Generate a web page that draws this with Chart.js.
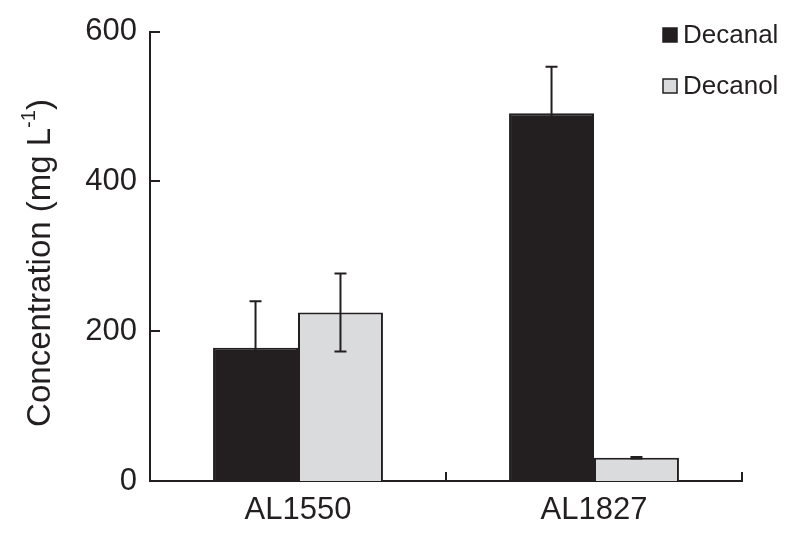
<!DOCTYPE html>
<html>
<head>
<meta charset="utf-8">
<script src="https://cdn.jsdelivr.net/npm/chart.js@4/dist/chart.umd.min.js"></script>
<style>
  html, body { margin: 0; padding: 0; background: #fff; }
  #wrap { width: 800px; height: 538px; position: relative; }
</style>
</head>
<body>
<div id="wrap"><canvas id="grafico"></canvas></div>
<script>
// datos
const categorias = ['AL1550', 'AL1827'];
const decanal = [178, 491];
const decanalErr = [62, 62];
const decanol = [225, 31];
const decanolErr = [52, 1];
const yTicks = [0, 200, 400, 600];

const TINTA = '#231f20';
const GRIS = '#d9dbdc';
const FUENTE = '"Liberation Sans", Arial, sans-serif';

// barras de error (solo dibujo, valores vienen de los arrays)
const barrasError = {
    id: 'barrasError',
    afterDatasetsDraw(chart) {
        const ctx = chart.ctx;
        const y = chart.scales.y;
        ctx.save();
        ctx.strokeStyle = TINTA;
        ctx.lineWidth = 2;
        chart.data.datasets.forEach((ds, i) => {
            const meta = chart.getDatasetMeta(i);
            meta.data.forEach((bar, j) => {
                const v = ds.data[j];
                const e = ds.errores[j];
                const x = bar.x;
                const yTop = y.getPixelForValue(v + e);
                const yBot = y.getPixelForValue(v - e);
                ctx.beginPath();
                ctx.moveTo(x, yTop); ctx.lineTo(x, yBot);
                ctx.moveTo(x - 6, yTop); ctx.lineTo(x + 6, yTop);
                ctx.moveTo(x - 6, yBot); ctx.lineTo(x + 6, yBot);
                ctx.stroke();
            });
        });
        ctx.restore();
    }
};

// ticks hacia adentro, leyenda y titulo del eje Y con superindice
const adornos = {
    id: 'adornos',
    afterDraw(chart) {
        const ctx = chart.ctx;
        const { x, y } = chart.scales;
        const area = chart.chartArea;
        ctx.save();
        ctx.strokeStyle = TINTA;
        ctx.lineWidth = 2;
        ctx.beginPath();
        yTicks.forEach(t => {
            const py = Math.round(y.getPixelForValue(t));
            ctx.moveTo(area.left, py); ctx.lineTo(area.left + 10, py);
        });
        for (let i = 0; i <= categorias.length; i++) {
            const px = x.getPixelForValue(i - 0.5);
            ctx.moveTo(px, area.bottom); ctx.lineTo(px, area.bottom - 9);
        }
        ctx.stroke();

        // leyenda
        ctx.font = '26px ' + FUENTE;
        ctx.textBaseline = 'middle';
        ctx.textAlign = 'left';
        chart.data.datasets.forEach((ds, i) => {
            const cy = 35 + i * 51;
            ctx.fillStyle = ds.backgroundColor;
            ctx.fillRect(663, cy - 7, 14, 14);
            ctx.lineWidth = 1.5;
            ctx.strokeStyle = TINTA;
            ctx.strokeRect(663, cy - 7, 14, 14);
            ctx.fillStyle = TINTA;
            ctx.fillText(ds.label, 683, cy + 1);
        });

        // titulo eje Y
        const partes = ['Concentration (mg L', '-1', ')'];
        ctx.translate(38, 263);
        ctx.rotate(-Math.PI / 2);
        const fGrande = '33px ' + FUENTE;
        const fChica = '20px ' + FUENTE;
        ctx.font = fGrande;
        const w1 = ctx.measureText(partes[0]).width;
        const w3 = ctx.measureText(partes[2]).width;
        ctx.font = fChica;
        const w2 = ctx.measureText(partes[1]).width;
        let cx = -(w1 + w2 + w3) / 2;
        ctx.textBaseline = 'alphabetic';
        ctx.fillStyle = TINTA;
        ctx.font = fGrande;
        ctx.fillText(partes[0], cx, 12);
        cx += w1;
        ctx.font = fChica;
        ctx.fillText(partes[1], cx, -3);
        cx += w2;
        ctx.font = fGrande;
        ctx.fillText(partes[2], cx, 12);
        ctx.restore();
    }
};

new Chart(document.getElementById('grafico'), {
    type: 'bar',
    data: {
        labels: categorias,
        datasets: [
            { label: 'Decanal', data: decanal, errores: decanalErr, backgroundColor: TINTA, borderColor: TINTA, borderWidth: 2 },
            { label: 'Decanol', data: decanol, errores: decanolErr, backgroundColor: GRIS, borderColor: TINTA, borderWidth: 2 }
        ]
    },
    options: {
        responsive: true,
        maintainAspectRatio: false,
        animation: false,
        layout: { padding: { top: 31, right: 58, left: 0, bottom: 0 } },
        plugins: { legend: { display: false }, tooltip: { enabled: false } },
        datasets: { bar: { barPercentage: 1, categoryPercentage: 0.574 } },
        scales: {
            x: {
                grid: { display: false, drawTicks: false },
                border: { color: TINTA, width: 2 },
                ticks: { color: TINTA, font: { family: FUENTE, size: 31 }, padding: 11 },
                afterFit: s => { s.height = 57; }
            },
            y: {
                min: 0, max: 600,
                afterBuildTicks: s => { s.ticks = yTicks.map(v => ({ value: v })); },
                grid: { display: false, drawTicks: false },
                border: { color: TINTA, width: 2 },
                ticks: { color: TINTA, font: { family: FUENTE, size: 31 }, padding: 13 },
                afterFit: s => { s.width = 150; }
            }
        }
    },
    plugins: [barrasError, adornos]
});
</script>
</body>
</html>
